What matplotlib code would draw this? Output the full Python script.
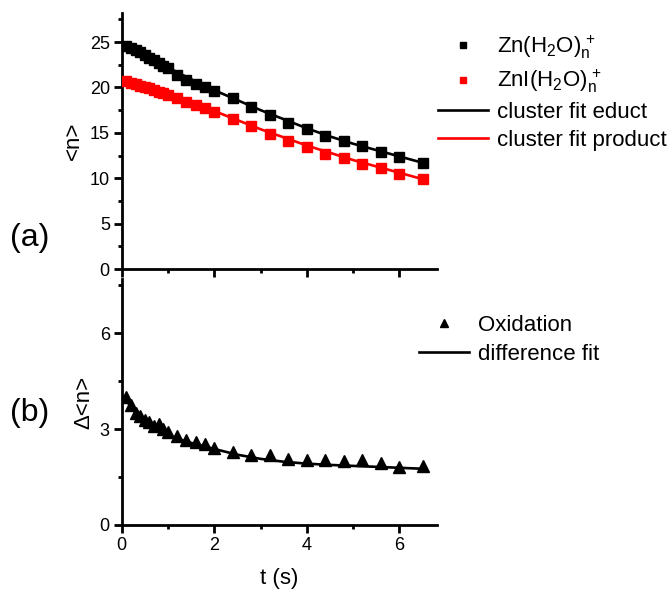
import matplotlib
matplotlib.use("Agg")
import matplotlib.pyplot as plt
from matplotlib.ticker import MultipleLocator

plt.rcParams['font.family'] = ['Liberation Sans', 'DejaVu Sans']
plt.rcParams['mathtext.fontset'] = 'custom'
plt.rcParams['mathtext.rm'] = 'Liberation Sans'
plt.rcParams['mathtext.it'] = 'Liberation Sans'
plt.rcParams['mathtext.default'] = 'regular'

# ---- data ----
t = [0.1, 0.2, 0.3, 0.4, 0.5, 0.6, 0.7, 0.8, 0.9, 1.0, 1.2, 1.4, 1.6, 1.8, 2.0,
     2.4, 2.8, 3.2, 3.6, 4.0, 4.4, 4.8, 5.2, 5.6, 6.0, 6.5]
n_educt = [24.6, 24.4, 24.1, 23.9, 23.6, 23.3, 23.0, 22.7, 22.4, 22.1, 21.4, 20.8,
           20.4, 20.0, 19.6, 18.8, 17.8, 17.0, 16.1, 15.4, 14.7, 14.1, 13.6, 12.9,
           12.3, 11.7]
n_product = [20.7, 20.5, 20.4, 20.2, 20.0, 19.9, 19.7, 19.5, 19.4, 19.2, 18.8, 18.4,
             18.1, 17.7, 17.3, 16.5, 15.7, 14.9, 14.1, 13.4, 12.7, 12.2, 11.6, 11.1,
             10.5, 9.95]
delta_n = [4.0, 3.77, 3.51, 3.4, 3.3, 3.21, 3.1, 3.15, 3.0, 2.9, 2.8, 2.66, 2.59,
           2.52, 2.4, 2.3, 2.18, 2.18, 2.06, 2.03, 2.03, 2.0, 2.03, 1.93, 1.82, 1.84]

t_fit = [0.1, 0.5, 1.0, 1.5, 2.0, 2.5, 3.0, 3.5, 4.0, 4.5, 5.0, 5.5, 6.0, 6.5]
fit_educt = [24.6, 23.6, 22.2, 20.9, 19.7, 18.6, 17.5, 16.5, 15.5, 14.6, 13.8, 13.1,
             12.4, 11.7]
fit_product = [20.7, 20.0, 19.2, 18.3, 17.4, 16.4, 15.4, 14.5, 13.6, 12.8, 12.0, 11.3,
               10.6, 9.9]

t_dfit = [0.05, 0.25, 0.5, 0.75, 1.0, 1.25, 1.5, 2.0, 2.5, 3.0, 3.5, 4.0, 4.5, 5.0,
          5.5, 6.0, 6.5]
fit_delta = [4.0, 3.6, 3.25, 3.0, 2.82, 2.68, 2.57, 2.38, 2.2, 2.07, 1.98, 1.92, 1.88,
             1.85, 1.82, 1.79, 1.76]

fig = plt.figure(figsize=(6.72, 5.92), dpi=100)
ax1 = fig.add_axes([0.181, 0.5456, 0.470, 0.4324])
ax2 = fig.add_axes([0.181, 0.1132, 0.470, 0.4155])

for ax in (ax1, ax2):
    ax.spines['top'].set_visible(False)
    ax.spines['right'].set_visible(False)
    ax.spines['left'].set_linewidth(2.0)
    ax.spines['bottom'].set_linewidth(2.0)
    ax.set_xlim(0, 6.82)
    ax.xaxis.set_major_locator(MultipleLocator(2))
    ax.xaxis.set_minor_locator(MultipleLocator(1))
    ax.tick_params(which='major', direction='out', length=5.5, width=2.0,
                   labelsize=13, pad=3)
    ax.tick_params(which='minor', direction='out', length=3.2, width=2.0)

ax1.plot(t_fit, fit_educt, color='black', lw=1.9, label='cluster fit educt', zorder=2)
ax1.plot(t_fit, fit_product, color='#ff0000', lw=1.9, label='cluster fit product', zorder=2)
ax1.plot(t, n_educt, 's', color='black', ms=6.5, ls='none',
         label=r'Zn(H$_2$O)$_n^{\,+}$', zorder=3)
ax1.plot(t, n_product, 's', color='#ff0000', ms=6.5, ls='none',
         label=r'ZnI(H$_2$O)$_n^{\,+}$', zorder=3)
ax1.set_ylim(0, 28.2)
ax1.yaxis.set_major_locator(MultipleLocator(5))
ax1.yaxis.set_minor_locator(MultipleLocator(2.5))
ax1.tick_params(axis='x', labelbottom=False)
ax1.set_ylabel('<n>', fontsize=16, labelpad=4)

h, l = ax1.get_legend_handles_labels()
order = [2, 3, 0, 1]
ax1.legend([h[i] for i in order], [l[i] for i in order], frameon=False,
           loc='upper left', bbox_to_anchor=(0.639, 0.958), bbox_transform=fig.transFigure,
           fontsize=16, handlelength=2.25, handletextpad=0.4, labelspacing=0.3,
           markerscale=0.7, borderaxespad=0)

ax2.plot(t_dfit, fit_delta, color='black', lw=1.9, label='difference fit', zorder=2)
ax2.plot(t, delta_n, '^', color='black', ms=8, ls='none', label='Oxidation', zorder=3)
ax2.set_ylim(0, 7.7)
ax2.yaxis.set_major_locator(MultipleLocator(3))
ax2.yaxis.set_minor_locator(MultipleLocator(1.5))
ax2.set_ylabel('Δ<n>', fontsize=16, labelpad=4)
ax2.set_xlabel('t (s)', fontsize=16, labelpad=10)

h2, l2 = ax2.get_legend_handles_labels()
ax2.legend([h2[1], h2[0]], [l2[1], l2[0]], frameon=False,
           loc='upper left', bbox_to_anchor=(0.611, 0.483), bbox_transform=fig.transFigure,
           fontsize=16, handlelength=2.25, handletextpad=0.4, labelspacing=0.35,
           markerscale=0.75, borderaxespad=0)

fig.text(0.015, 0.598, '(a)', fontsize=23, va='center', ha='left')
fig.text(0.015, 0.303, '(b)', fontsize=23, va='center', ha='left')

fig.savefig('out.png', dpi=100)
